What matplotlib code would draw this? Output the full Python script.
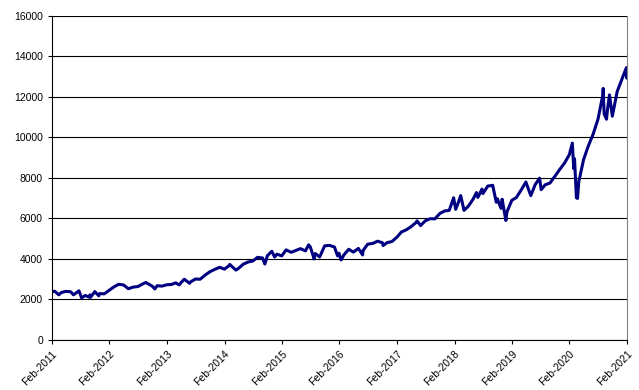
import pandas as pd
import matplotlib.pyplot as plt
import matplotlib.dates as mdates

# index level (monthly closes plus visible highs/lows)
dates = [
    "2011-02-01", "2011-02-18", "2011-03-16", "2011-03-31", "2011-04-29", "2011-05-31",
    "2011-06-17", "2011-06-30", "2011-07-22", "2011-08-08", "2011-08-31", "2011-09-22",
    "2011-09-30", "2011-10-03", "2011-10-31", "2011-11-25", "2011-11-30", "2011-12-30",
    "2012-01-31", "2012-02-29", "2012-03-30", "2012-04-30", "2012-05-31", "2012-06-29",
    "2012-07-31", "2012-08-31", "2012-09-19", "2012-10-31", "2012-11-15", "2012-11-30",
    "2012-12-31",
    "2013-01-31", "2013-02-28", "2013-03-28", "2013-04-19", "2013-04-30", "2013-05-21",
    "2013-06-24", "2013-06-28", "2013-07-31", "2013-08-30", "2013-09-30", "2013-10-31",
    "2013-11-29", "2013-12-31",
    "2014-01-31", "2014-02-28", "2014-03-06", "2014-04-14", "2014-04-30", "2014-05-30",
    "2014-06-30", "2014-07-31", "2014-08-29", "2014-09-30", "2014-10-15", "2014-10-31",
    "2014-11-28", "2014-12-16", "2014-12-31",
    "2015-01-30", "2015-02-27", "2015-03-31", "2015-04-30", "2015-05-29", "2015-06-30",
    "2015-07-20", "2015-07-31", "2015-08-24", "2015-08-31", "2015-09-28", "2015-10-30",
    "2015-11-30", "2015-12-31",
    "2016-01-20", "2016-01-29", "2016-02-11", "2016-02-29", "2016-03-31", "2016-04-29",
    "2016-05-31", "2016-06-27", "2016-06-30", "2016-07-29", "2016-08-31", "2016-09-30",
    "2016-10-31", "2016-11-04", "2016-11-30", "2016-12-30",
    "2017-01-31", "2017-02-28", "2017-03-31", "2017-04-28", "2017-05-31", "2017-06-08",
    "2017-06-30", "2017-07-31", "2017-08-31", "2017-09-29", "2017-10-31", "2017-11-30",
    "2017-12-29",
    "2018-01-26", "2018-02-08", "2018-02-28", "2018-03-12", "2018-04-02", "2018-04-30",
    "2018-05-31", "2018-06-20", "2018-06-29", "2018-07-25", "2018-07-31", "2018-08-31",
    "2018-09-28", "2018-10-01", "2018-10-24", "2018-10-31", "2018-11-23", "2018-11-30",
    "2018-12-24", "2018-12-31",
    "2019-01-31", "2019-02-28", "2019-03-29", "2019-04-30", "2019-05-31", "2019-06-28",
    "2019-07-26", "2019-08-05", "2019-08-30", "2019-09-30", "2019-10-31", "2019-11-29",
    "2019-12-31",
    "2020-01-31", "2020-02-19", "2020-02-28", "2020-03-04", "2020-03-16", "2020-03-23",
    "2020-03-31", "2020-04-30", "2020-05-29", "2020-06-30", "2020-07-31", "2020-08-31",
    "2020-09-02", "2020-09-08", "2020-09-23", "2020-09-30", "2020-10-12", "2020-10-30",
    "2020-11-30", "2020-12-31",
    "2021-01-25", "2021-01-29", "2021-02-01",
]
values = [
    2380, 2410, 2230, 2340, 2400, 2380,
    2230, 2300, 2430, 2080, 2200, 2120,
    2230, 2100, 2390, 2180, 2290, 2280,
    2460, 2620, 2750, 2720, 2530, 2610,
    2640, 2770, 2840, 2650, 2520, 2680,
    2660,
    2730, 2740, 2820, 2720, 2830, 3000,
    2800, 2860, 3010, 3000, 3200, 3370,
    3480, 3590,
    3500, 3660, 3730, 3450, 3530, 3740,
    3850, 3900, 4080, 4050, 3750, 4160,
    4380, 4100, 4240,
    4150, 4450, 4330, 4420, 4510, 4400,
    4700, 4590, 4000, 4270, 4100, 4650,
    4670, 4590,
    4150, 4280, 3950, 4200, 4480, 4340,
    4520, 4200, 4420, 4730, 4770, 4880,
    4800, 4660, 4810, 4860,
    5080, 5330, 5440, 5580, 5790, 5880,
    5650, 5890, 5990, 5980, 6250, 6370,
    6400,
    7020, 6450, 6850, 7130, 6400, 6610,
    6970, 7280, 7040, 7450, 7230, 7600,
    7630, 7640, 6800, 6970, 6500, 6950,
    5900, 6330,
    6900, 7030, 7380, 7800, 7130, 7670,
    7990, 7420, 7660, 7750, 8080, 8400,
    8730,
    9150, 9720, 8460, 8950, 7020, 6990,
    7810, 8890, 9550, 10160, 10900, 12110,
    12420, 11170, 10900, 11420, 12100, 11050,
    12270, 12890,
    13400, 12930, 13450,
]
tick_years = list(range(2011, 2022))

x = pd.to_datetime(dates)

fig = plt.figure(figsize=(6.39, 3.90), dpi=100)
ax = fig.add_axes([0.0814, 0.1282, 0.9, 0.831])

ax.plot(x, values, color='#000080', lw=2.2, solid_joinstyle='round')

ax.set_ylim(0, 16000)
ax.set_yticks(range(0, 16001, 2000))
ax.yaxis.grid(True, color='black', lw=0.8)
ax.set_axisbelow(True)

ticks = pd.to_datetime([f"{y}-02-01" for y in tick_years])
ax.set_xlim(ticks[0], ticks[-1])
ax.set_xticks(ticks)
ax.xaxis.set_major_formatter(mdates.DateFormatter('%b-%Y'))

for lab in ax.get_xticklabels():
    lab.set_rotation(45)
    lab.set_ha('right')
    lab.set_rotation_mode('anchor')

ax.tick_params(labelsize=7.5, length=3, width=0.8, color='black')
for lab in ax.get_xticklabels() + ax.get_yticklabels():
    lab.set_fontfamily('Liberation Sans')

ax.spines['top'].set_visible(False)
ax.spines['right'].set_color('#808080')
ax.spines['left'].set_color('black')
ax.spines['bottom'].set_color('black')

fig.savefig('out.png', dpi=100)
